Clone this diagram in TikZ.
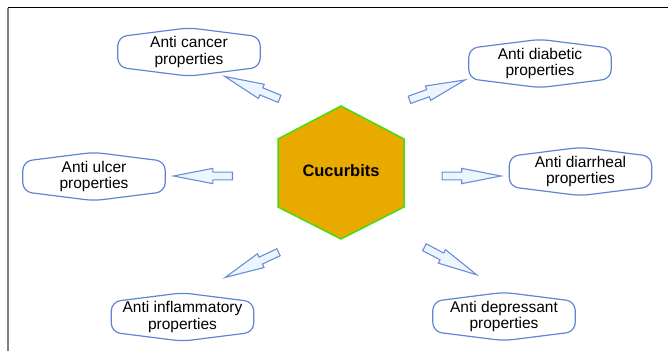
\documentclass[tikz,border=0pt]{standalone}
\usepackage{fontspec}
\setmainfont{Liberation Sans}
\usetikzlibrary{shapes.arrows}
\definecolor{hexfill}{HTML}{E9AA00}
\definecolor{hexline}{HTML}{44DD11}
\definecolor{propline}{HTML}{5F84D2}
\definecolor{arrowfill}{HTML}{EDF5FF}
\definecolor{arrowline}{HTML}{6A8ED8}

\begin{document}
\begin{tikzpicture}[x=1pt,y=1pt,
  prop node/.style={minimum width=142pt,minimum height=48pt,align=center,inner sep=0pt,
    font=\fontsize{15.5}{16.5}\selectfont},
  prop line/.style={draw=propline,line width=1.2pt,rounded corners=9pt},
  block arrow/.style={single arrow,draw=arrowline,fill=arrowfill,line width=1.1pt,
    inner xsep=0pt,inner ysep=3.3pt,single arrow head extend=3.8pt,anchor=tail,
    single arrow tip angle=22,single arrow head indent=0pt,minimum height=59pt}]

  \useasboundingbox (0,0) rectangle (668,351);
  \draw[black,line width=1pt] (8,343) -- (668,343);
  \draw[gray,line width=1.2pt] (8,343) -- (8,0);

  % centre
  \draw[fill=hexfill,draw=hexline,line width=1.5pt] (341,245) -- (404,212) -- (404,144)
    -- (341,112) -- (278,144) -- (278,212) -- cycle;
  \node[font=\fontsize{16.5}{18}\selectfont\bfseries] (cuc) at (341,180) {Cucurbits};

  % properties
  \node[prop node] (cancer) at (189,299) {Anti cancer\\properties};
  \node[prop node] (diabetic) at (540,287.5) {Anti diabetic\\properties};
  \node[prop node] (ulcer) at (94,174.5) {Anti ulcer\\properties};
  \node[prop node] (diarrheal) at (580.5,179.5) {Anti diarrheal\\properties};
  \node[prop node] (inflam) at (182.5,34) {Anti inflammatory\\properties};
  \node[prop node] (depress) at (504,34.5) {Anti depressant\\properties};

  \foreach \n in {cancer,diabetic,ulcer,diarrheal,inflam,depress}
    \draw[prop line] ([yshift=-9pt]\n.north west) -- (\n.north) -- ([yshift=-9pt]\n.north east)
      -- ([yshift=9pt]\n.south east) -- (\n.south) -- ([yshift=9pt]\n.south west) -- cycle;

  % arrows
  \foreach \pos/\ang [count=\i] in {(280,252)/157.8,(409,251)/19.7,(233,175)/180,
      (441.5,175)/0,(279,99)/205.3,(424,104)/-27.8}
    \node[block arrow,rotate=\ang] (arr\i) at \pos {};
\end{tikzpicture}
\end{document}
